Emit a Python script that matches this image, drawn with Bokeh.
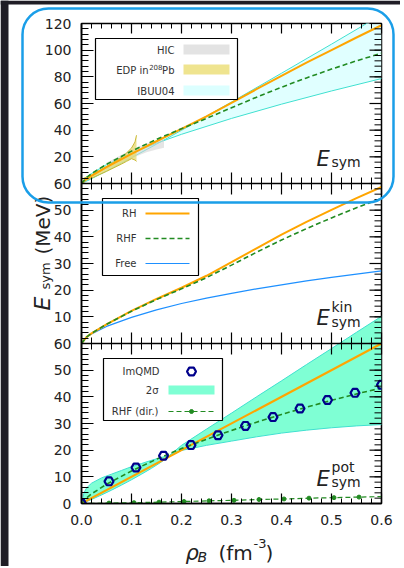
import math
import numpy as np
from bokeh.plotting import figure
from bokeh.layouts import column
from bokeh.models import Range1d, LinearAxis, FixedTicker, BoxAnnotation, Label, Span
from bokeh.embed import file_html
from bokeh.resources import INLINE

# ---------------- data ----------------
rho = [0.0, 0.01, 0.02, 0.05, 0.1, 0.15, 0.2, 0.25, 0.3, 0.35, 0.4, 0.45, 0.5, 0.55, 0.6]
# top panel: total symmetry energy
esym_rh = [0.0, 3.4, 5.8, 12.2, 22.2, 31.7, 40.9, 50.4, 60.5, 70.7, 80.8, 90.6, 100.1, 109.5, 118.7]
esym_rhf = [0.0, 4.4, 7.4, 14.4, 24.3, 33.1, 41.1, 48.8, 56.8, 64.7, 72.2, 79.2, 85.8, 92.0, 97.7]
rho_ibuu = [0.0, 0.01, 0.02, 0.05, 0.1, 0.15, 0.2, 0.3, 0.4, 0.5, 0.6]
ibuu_a = [0.0, 4.7, 7.5, 14.2, 22.8, 30.2, 36.9, 48.8, 59.5, 69.4, 78.7]
ibuu_b = [0.0, 1.7, 3.6, 9.3, 19.3, 29.5, 39.9, 61.1, 82.7, 104.5, 126.6]
rho_hic = [0.05, 0.07, 0.09, 0.11, 0.13, 0.15, 0.165]
hic_low = [10.5, 14.0, 17.5, 20.5, 23.5, 25.5, 26.8]
hic_up = [15.5, 19.5, 23.5, 27.0, 30.0, 32.5, 34.0]
rho_edp = [0.002, 0.02, 0.05, 0.08, 0.09, 0.1, 0.107, 0.11]
edp_low = [1.5, 4.0, 9.1, 14.6, 16.6, 18.6, 17.6, 16.6]
edp_up = [3.5, 6.5, 12.8, 19.6, 22.9, 26.6, 31.2, 36.2]
# middle panel: kinetic part
ekin_rh = [0.0, 2.4, 3.8, 7.2, 12.2, 16.7, 20.9, 25.4, 30.5, 35.7, 40.8, 45.6, 50.1, 54.5, 58.7]
ekin_rhf = [0.0, 2.4, 3.8, 7.2, 12.1, 16.5, 20.5, 24.7, 29.4, 34.2, 38.8, 43.1, 47.1, 50.9, 54.4]
ekin_free = [0.0, 2.4, 3.6, 6.4, 9.8, 12.6, 15.0, 17.0, 18.8, 20.5, 22.0, 23.5, 24.8, 26.0, 27.2]
# bottom panel: potential part
rho_rh_pot = [0.0, 0.6]
epot_rh = [0.0, 60.0]
epot_rhf = [0.0, 2.0, 3.6, 7.2, 12.2, 16.6, 20.6, 24.1, 27.4, 30.5, 33.4, 36.1, 38.7, 41.1, 43.3]
rho_imqmd = [0.0, 0.055, 0.109, 0.164, 0.219, 0.273, 0.328, 0.383, 0.437, 0.492, 0.547, 0.6]
epot_imqmd = [0.0, 8.3, 13.5, 17.9, 21.9, 25.6, 29.1, 32.4, 35.6, 38.8, 41.5, 44.5]
rho_dir = [0.0, 0.055, 0.105, 0.155, 0.205, 0.255, 0.305, 0.355, 0.405, 0.455, 0.505, 0.555, 0.6]
epot_dir = [0.0, 0.15, 0.3, 0.5, 0.75, 1.0, 1.2, 1.5, 1.7, 2.0, 2.2, 2.4, 2.6]
rho_band = [0.0, 0.005, 0.01, 0.02, 0.04, 0.06, 0.08, 0.1, 0.12, 0.14, 0.16, 0.175, 0.2,
            0.25, 0.3, 0.35, 0.4, 0.45, 0.5, 0.55, 0.6]
band_up = [0.0, 4.0, 5.8, 7.6, 9.6, 11.0, 12.4, 13.8, 15.0, 16.2, 17.3, 17.9, 21.8,
           27.9, 33.9, 40.0, 46.0, 52.1, 58.1, 64.2, 70.2]
band_low = [0.0, 0.3, 0.7, 1.5, 3.2, 5.0, 6.9, 8.9, 11.0, 13.2, 15.6, 17.6, 19.9,
            21.8, 23.4, 25.0, 26.4, 27.5, 28.4, 29.1, 29.6]

# ticks
x_ticks = [0.0, 0.1, 0.2, 0.3, 0.4, 0.5, 0.6]
x_tick_labels = ["0.0", "0.1", "0.2", "0.3", "0.4", "0.5", "0.6"]
bot_ticks = [0, 10, 20, 30, 40, 50, 60]
mid_ticks = [10, 20, 30, 40, 50, 60]
top_ticks = [20, 40, 60, 80, 100, 120]

ORANGE = "#ffa500"
GREEN = "#228b22"
BLUE = "#1e90ff"
NAVY = "#00008b"
FONT = "DejaVu Sans"

W, H = 400, 566

# ---------------- main figure ----------------
BASE = Range1d(0, 180)
TOP = Range1d(-240, 120)
MID = Range1d(-60, 120)
BOT = BASE
XR = Range1d(0, 0.6)

p = figure(frame_width=300, frame_height=480, x_range=XR, y_range=BASE,
           output_backend="svg", toolbar_location=None, frame_align=False,
           min_border_left=81, min_border_right=W - 381, min_border_top=23, min_border_bottom=H - 503,
           x_axis_location=None, y_axis_location=None,
           background_fill_color="white", border_fill_color="white")
p.extra_y_ranges = {"top": TOP, "mid": MID}
p.grid.visible = False
p.outline_line_color = "black"
p.outline_line_width = 1.5

PXX = 0.6 / 300.0     # x data units per pixel
PXY = 180.0 / 480.0   # base y units per pixel


def to_base(v, r):
    return round(BASE.start + (v - r.start) / (r.end - r.start) * (BASE.end - BASE.start), 6)


def style_axis(ax, tin, tmin, standoff):
    ax.axis_line_color = "black"
    ax.axis_line_width = 1.5
    ax.major_tick_line_color = "black"
    ax.major_tick_line_width = 1.2
    ax.minor_tick_line_color = "black"
    ax.minor_tick_line_width = 1
    ax.major_tick_in = tin
    ax.major_tick_out = 0
    ax.minor_tick_in = tmin
    ax.minor_tick_out = 0
    ax.major_label_text_font = FONT
    ax.major_label_text_font_size = "14px"
    ax.major_label_text_color = "#222222"
    ax.major_label_standoff = standoff


x_minor = [round(v, 4) for v in np.arange(0, 0.6001, 0.02)]
xb = LinearAxis(ticker=FixedTicker(ticks=x_ticks, minor_ticks=x_minor),
                major_label_overrides={t: l for t, l in zip(x_ticks, x_tick_labels)})
style_axis(xb, 10, 5, 11)
p.add_layout(xb, "below")

ypos, ylab = [], []
for ticks, r in ((bot_ticks, BOT), (mid_ticks, MID), (top_ticks, TOP)):
    for t in ticks:
        ypos.append(to_base(t, r))
        ylab.append(str(t))
y_minor = sorted(set([to_base(v, BOT) for v in range(0, 61, 2)] +
                     [to_base(v, MID) for v in range(0, 61, 2)] +
                     [to_base(v, TOP) for v in range(0, 121, 4)]))
yl = LinearAxis(ticker=FixedTicker(ticks=ypos, minor_ticks=y_minor),
                major_label_overrides={t: l for t, l in zip(ypos, ylab)})
style_axis(yl, 12, 7, 10)
p.add_layout(yl, "left")


def hticks(xs, yc, up, down, lw):
    n = len(xs)
    p.segment(x0=xs, x1=xs, y0=[yc - down * PXY] * n, y1=[yc + up * PXY] * n,
              line_color="black", line_width=lw, level="guide")


# mirrored ticks on the top edge and the right edge
hticks(x_ticks, BASE.end, 0, 10, 1.2)
hticks(x_minor, BASE.end, 0, 5, 1)
p.segment(x0=[XR.end] * len(ypos), x1=[XR.end - 12 * PXX] * len(ypos), y0=ypos, y1=ypos,
          line_color="black", line_width=1.2, level="guide")
p.segment(x0=[XR.end] * len(y_minor), x1=[XR.end - 7 * PXX] * len(y_minor), y0=y_minor, y1=y_minor,
          line_color="black", line_width=1, level="guide")

# panel boundaries with ticks on both sides
for b in (to_base(0, MID), to_base(0, TOP)):
    p.add_layout(Span(location=b, dimension="width", line_color="black", line_width=1.5))
    hticks(x_ticks, b, 11, 11, 1.2)
    hticks(x_minor, b, 6, 6, 1)

# ---------------- top panel ----------------
p.varea(x=rho_ibuu, y1=ibuu_a, y2=ibuu_b, fill_color="#e0ffff", y_range_name="top")
p.line(rho_ibuu, ibuu_a, line_color="#40e0d0", line_width=1, y_range_name="top")
p.line(rho_ibuu, ibuu_b, line_color="#40e0d0", line_width=1, y_range_name="top")
p.varea(x=rho_hic, y1=hic_low, y2=hic_up, fill_color="#d3d3d3", fill_alpha=0.6, y_range_name="top")
p.varea(x=rho_edp, y1=edp_low, y2=edp_up, fill_color="#e6d870", fill_alpha=0.75, y_range_name="top")
p.line(rho_edp, edp_up, line_color="#cbb936", line_width=1, y_range_name="top")
p.line(rho_edp, edp_low, line_color="#cbb936", line_width=1, y_range_name="top")
p.line(rho, esym_rh, line_color=ORANGE, line_width=2, y_range_name="top")
p.line(rho, esym_rhf, line_color=GREEN, line_width=1.6, line_dash="5 3", y_range_name="top")

# ---------------- middle panel ----------------
p.line(rho, ekin_free, line_color=BLUE, line_width=1.2, y_range_name="mid")
p.line(rho, ekin_rh, line_color=ORANGE, line_width=2, y_range_name="mid")
p.line(rho, ekin_rhf, line_color=GREEN, line_width=1.6, line_dash="5 3", y_range_name="mid")

# ---------------- bottom panel ----------------
p.varea(x=rho_band, y1=band_low, y2=band_up, fill_color="#7fffd4")
p.line(rho_band, band_up, line_color="#40e0d0", line_width=1)
p.line(rho_band, band_low, line_color="#40e0d0", line_width=1)
p.line(rho_rh_pot, epot_rh, line_color=ORANGE, line_width=2)
p.line(rho, epot_rhf, line_color=GREEN, line_width=1.6, line_dash="5 3")
p.line(rho_dir, epot_dir, line_color=GREEN, line_width=1.2, line_dash="5 3")
p.scatter(rho_dir[1:-1], epot_dir[1:-1], marker="circle", size=4, fill_color=GREEN, line_color=GREEN)
p.scatter(rho_imqmd, epot_imqmd, marker="hex", size=9, fill_color=None, line_color=NAVY, line_width=2.2)

# ---------------- overlay figure for legends, titles and highlight ----------------
ov = figure(width=W, height=H, x_range=Range1d(0, W), y_range=Range1d(0, H),
            output_backend="svg", toolbar_location=None, frame_align=False,
            min_border=0, min_border_left=0, min_border_right=0,
            min_border_top=0, min_border_bottom=0,
            x_axis_location=None, y_axis_location=None,
            background_fill_color=None, border_fill_color=None, outline_line_color=None,
            margin=(-H, 0, 0, 0))
ov.grid.visible = False


def Y(y):
    return H - y


def lab(x, y, text, size, italic=False, angle=0.0, align="left", baseline="alphabetic", color="#222222"):
    ov.add_layout(Label(x=x, y=Y(y), text=text, text_font=FONT, text_font_size=f"{size}px",
                        text_font_style="italic" if italic else "normal", angle=angle,
                        angle_units="rad", text_align=align, text_baseline=baseline,
                        text_color=color))


def box(x0, y0, x1, y1, fill="white", line="black", lw=1.2):
    ov.add_layout(BoxAnnotation(left=x0, right=x1, top=Y(y0), bottom=Y(y1),
                                fill_color=fill, fill_alpha=1.0,
                                line_color=line if line else fill,
                                line_width=lw if line else 0, line_alpha=1.0 if line else 0.0))


# dark screen edges of the original screenshot
DARK = "#1f1d25"
box(0, 0, 8, H, fill=DARK, line=None)
box(0, 0, W, 4, fill=DARK, line=None)

LC = "#333333"
# top legend
box(95, 38, 237, 99)
lab(174, 50, "HIC", 10, align="right", baseline="middle", color=LC)
box(183, 44, 229, 54, fill="#e3e3e3", line=None)
lab(174, 70, "Pb", 10, align="right", baseline="middle", color=LC)
lab(162, 66, "208", 7, align="right", baseline="middle", color=LC)
lab(148, 70, "EDP in", 10, align="right", baseline="middle", color=LC)
box(183, 64, 229, 74, fill="#efe48f", line=None)
lab(174, 91, "IBUU04", 10, align="right", baseline="middle", color=LC)
box(183, 85, 229, 95, fill="#dcffff", line=None)

# middle legend
box(102, 198, 198, 275)
lab(136, 213, "RH", 10, align="right", baseline="middle", color=LC)
lab(136, 238, "RHF", 10, align="right", baseline="middle", color=LC)
lab(136, 263, "Free", 10, align="right", baseline="middle", color=LC)
ov.line([145, 189], [Y(213)] * 2, line_color=ORANGE, line_width=2, level="overlay")
ov.line([145, 189], [Y(238)] * 2, line_color=GREEN, line_width=1.6, line_dash="5 3", level="overlay")
ov.line([145, 189], [Y(263)] * 2, line_color=BLUE, line_width=1.2, level="overlay")

# bottom legend
box(103, 358, 222, 420)
lab(159, 371, "ImQMD", 10, align="right", baseline="middle", color=LC)
ov.scatter([191], [Y(371)], marker="hex", size=9, fill_color=None, line_color=NAVY,
           line_width=2.2, level="overlay")
lab(158, 390, "2σ", 10, align="right", baseline="middle", color=LC)
box(168, 385, 214, 394, fill="#7fffd4", line=None)
lab(158, 411, "RHF (dir.)", 10, align="right", baseline="middle", color=LC)
ov.line([168, 213], [Y(411)] * 2, line_color=GREEN, line_width=1.2, line_dash="5 3", level="overlay")
ov.scatter([191], [Y(411)], marker="circle", size=4, fill_color=GREEN, line_color=GREEN, level="overlay")

# panel labels
lab(316, 158, "E", 21, italic=True)
lab(331, 161, "sym", 14)
lab(316, 317, "E", 21, italic=True)
lab(331, 306, "kin", 14)
lab(331, 321, "sym", 14)
lab(316, 478, "E", 21, italic=True)
lab(331, 466, "pot", 14)
lab(331, 481, "sym", 14)

# axis titles
lab(185, 552, "ρ", 21, italic=True)
lab(197, 556, "B", 14, italic=True)
lab(218, 552, "(fm", 20)
lab(253, 543, "-3", 13)
lab(265, 552, ")", 20)
lab(42, 310, "E", 22, italic=True, angle=math.pi / 2)
lab(45, 289, "sym", 13, angle=math.pi / 2)
lab(42, 254, "(MeV)", 20, angle=math.pi / 2)

# highlighting rounded frame
ov.add_layout(BoxAnnotation(left=22, right=393, top=Y(8), bottom=Y(202),
                            fill_alpha=0, line_color="#1a9ee8", line_alpha=1.0, line_width=2.5,
                            border_radius=26, level="overlay"))

layout = column(p, ov, spacing=0)
open("out.html", "w").write(file_html(layout, INLINE))
